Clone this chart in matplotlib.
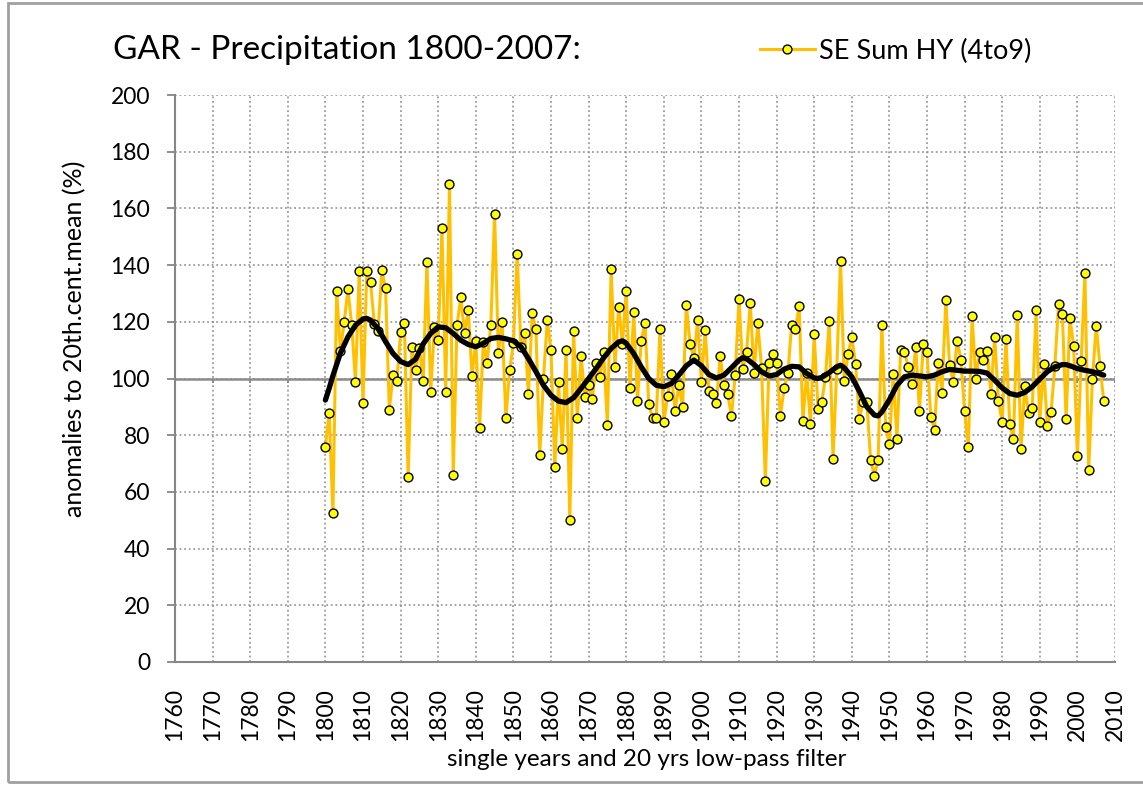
"""GAR precipitation anomalies 1800-2007 with 20 yr low-pass curve."""

import matplotlib
matplotlib.use("Agg")
import matplotlib.pyplot as plt
from matplotlib.patches import Rectangle

plt.rcParams["font.family"] = ["Lato", "DejaVu Sans"]

start_year = 1800
se_sum_hy = [
    76, 88, 52.6, 131, 109.8, 120, 131.5, 118.8, 98.8, 138,
    91.4, 137.9, 134, 119.4, 116.7, 138.1, 131.8, 89, 101.2, 99,
    116.5, 119.6, 65.3, 111, 103, 110.8, 99, 141, 95.3, 118,
    113.5, 153, 95.3, 168.5, 66, 118.7, 128.7, 116, 124, 101,
    113.3, 82.4, 113, 105.6, 119, 158, 109, 120, 85.9, 103,
    112.4, 143.8, 111, 116.2, 94.4, 123, 117.3, 73, 99.8, 120.5,
    110, 68.8, 98.6, 75, 110, 50, 116.7, 86, 108, 93.6,
    97.6, 92.7, 105.6, 100.6, 109.3, 83.7, 138.7, 104, 125.3, 112,
    131, 96.6, 123.3, 92.2, 113.3, 119.6, 91, 86.2, 86, 117.5,
    84.5, 93.8, 101.6, 88.7, 97.6, 90, 126, 112, 107.3, 120.5,
    98.6, 117, 95.5, 94.4, 91.5, 108, 97.6, 94.5, 86.7, 101.4,
    128.2, 103.4, 109.2, 126.6, 102, 119.5, 103.8, 63.8, 105.4, 108.5,
    105.6, 86.7, 96.5, 101.9, 119, 117.3, 125.4, 85, 102, 84.1,
    115.6, 89.3, 91.8, 100.4, 120.4, 71.5, 103.5, 141.4, 99, 108.6,
    114.7, 105, 85.7, 91.8, 91.8, 71.4, 65.6, 71.4, 118.8, 82.8,
    77, 101.6, 78.7, 110.2, 109.4, 104.1, 98.2, 111.2, 88.6, 112,
    109.4, 86.5, 82, 105.6, 95, 127.6, 104.7, 98.8, 113.4, 106.7,
    88.5, 75.9, 121.9, 99.9, 109.4, 106.7, 109.6, 94.7, 114.7, 92,
    84.7, 113.9, 84, 78.7, 122.5, 75, 97.2, 88, 89.6, 124,
    84.7, 105, 83.2, 88.1, 104.5, 126.2, 122.8, 85.6, 121.3, 111.6,
    72.7, 106.1, 137.3, 67.6, 100, 118.6, 104.4, 92.2,
]
years = list(range(start_year, start_year + len(se_sum_hy)))

# 20 yrs low-pass filter
lowpass_years = [
    1800, 1801, 1802, 1803, 1804, 1806, 1808, 1810, 1811, 1812,
    1814, 1816, 1818, 1820, 1822, 1824, 1826, 1828, 1830, 1832,
    1834, 1836, 1838, 1840, 1842, 1844, 1846, 1848, 1850, 1852,
    1854, 1856, 1858, 1860, 1862, 1864, 1866, 1868, 1870, 1872,
    1874, 1876, 1878, 1879, 1880, 1882, 1884, 1886, 1888, 1890,
    1892, 1894, 1896, 1898, 1900, 1902, 1904, 1906, 1908, 1910,
    1911, 1912, 1914, 1916, 1918, 1920, 1922, 1924, 1926, 1928,
    1930, 1931, 1932, 1934, 1936, 1937, 1938, 1940, 1942, 1944,
    1946, 1947, 1948, 1950, 1952, 1954, 1956, 1958, 1960, 1962,
    1964, 1966, 1968, 1970, 1972, 1974, 1976, 1978, 1980, 1982,
    1984, 1986, 1988, 1990, 1992, 1994, 1996, 1997, 1998, 2000,
    2002, 2004, 2006, 2007,
]
lowpass = [
    92.4, 96.5, 101, 105, 109, 114.7, 118.8, 121, 121.2, 120.6,
    117.6, 113, 108.8, 106, 104.9, 106.8, 112.2, 115.9, 118.2, 117.9,
    115.9, 113.5, 112, 111.2, 112.4, 114.1, 114.5, 114, 113.3, 111.2,
    107, 102.4, 97.6, 94.1, 92, 91.5, 93.2, 96.5, 100, 103.5,
    107.3, 110.6, 112.9, 113.3, 112.4, 108.8, 104.1, 100, 97.6, 97.1,
    98.2, 101.2, 104.5, 106.5, 104.5, 101.4, 100.2, 101.2, 103.8, 106.5,
    107.3, 107, 104.9, 102.4, 100.9, 101.4, 103.3, 104.3, 104.1, 101.8,
    100.2, 100, 100.4, 102.1, 104.1, 104.7, 103.8, 100.6, 95.5, 90,
    87.1, 86.8, 88.2, 92.5, 97.6, 100.6, 101.2, 100.9, 100.6, 101.2,
    102.4, 103.2, 102.9, 102.6, 102.6, 102.5, 101.9, 99.4, 96.7, 94.7,
    94.1, 95.1, 97.1, 99.8, 102.4, 104.1, 104.9, 104.9, 104.5, 103.5,
    102.9, 102.4, 101.6, 101.2,
]

x_ticks = list(range(1760, 2011, 10))
y_ticks = list(range(0, 201, 20))

W, H = 1143, 793
fig = plt.figure(figsize=(W / 100, H / 100), dpi=100)
ax = fig.add_axes([175 / W, 1 - 662 / H, 940 / W, 567 / H])

ax.set_xlim(1760, 2010)
ax.set_ylim(0, 200)
ax.set_xticks(x_ticks)
ax.set_yticks(y_ticks)
ax.set_xticklabels([str(t) for t in x_ticks], rotation=90, fontsize=16.5)
ax.tick_params(axis="y", labelsize=16.5, length=6, width=1.3,
               color="#868686", pad=12)
ax.tick_params(axis="x", length=0, pad=19)
ax.grid(True, color="#8c8c8c", linestyle=(0, (1.2, 1.8)), linewidth=1.1)
ax.set_axisbelow(True)
for side in ("top", "right"):
    ax.spines[side].set_visible(False)
for side in ("left", "bottom"):
    ax.spines[side].set_color("#868686")
    ax.spines[side].set_linewidth(1.5)

# category axis crossing at 100 with its own tick marks
ax.axhline(100, color="#8c8c8c", linewidth=1.8, zorder=1)
ax.vlines(x_ticks, 98.3, 100, color="#8c8c8c", linewidth=1.5, zorder=1)

line, = ax.plot(years, se_sum_hy, color="#FFC000", linewidth=2.2,
                marker="o", markersize=6.4, markerfacecolor="#FFFF00",
                markeredgecolor="black", markeredgewidth=1.0, zorder=3,
                label="SE Sum HY (4to9)")
ax.plot(lowpass_years, lowpass, color="black", linewidth=3.8,
        solid_capstyle="round", zorder=4)

fig.text(75 / W, 1 - 339 / H, "anomalies to 20th.cent.mean (%)",
         fontsize=18, rotation=90, ha="center", va="center")
fig.text(647 / W, 1 - 760 / H, "single years and 20 yrs low-pass filter",
         fontsize=17.5, ha="center", va="center")

fig.text(113 / W, 1 - 50 / H, "GAR - Precipitation 1800-2007:", fontsize=24,
         ha="left", va="center")
fig.legend(handles=[line], loc="center left", frameon=False, fontsize=19.5,
           bbox_to_anchor=(736 / W, 1 - 51 / H), handlelength=2.0,
           handletextpad=0.15)

fig.patches.append(Rectangle((8 / W, 11 / H), 1.2, 1 - 14 / H,
                             transform=fig.transFigure, fill=False,
                             edgecolor="#a0a0a0", linewidth=2))

fig.savefig("out.png", dpi=100)
plt.close(fig)
